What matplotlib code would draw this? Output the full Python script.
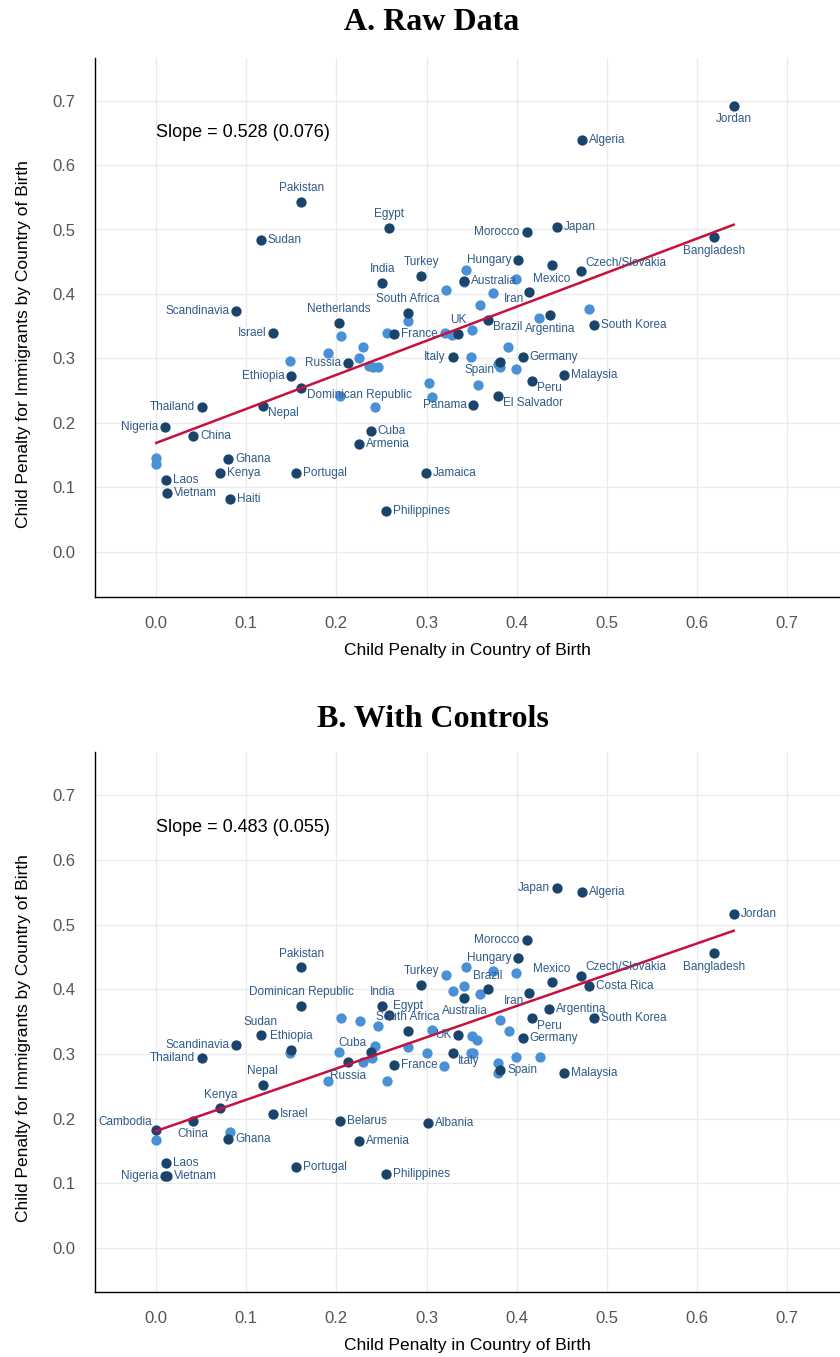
import matplotlib
matplotlib.use('Agg')
import matplotlib.pyplot as plt

plt.rcParams['font.family'] = ['Liberation Sans', 'DejaVu Sans']

# ---- Panel A: raw data ----
a_names = ['Jordan', 'Algeria', 'Pakistan', 'Egypt', 'Sudan', 'Morocco', 'Japan',
           'Bangladesh', 'Hungary', 'Mexico', 'Czech/Slovakia', 'India', 'Turkey',
           'Australia', 'Iran', 'Scandinavia', 'Netherlands', 'South Africa', 'Israel',
           'France', 'UK', 'Brazil', 'Argentina', 'South Korea', 'Russia', 'Italy',
           'Germany', 'Spain', 'Malaysia', 'Peru', 'Ethiopia', 'Dominican Republic',
           'Thailand', 'Nepal', 'Panama', 'El Salvador', 'Nigeria', 'China', 'Cuba',
           'Armenia', 'Ghana', 'Kenya', 'Portugal', 'Jamaica', 'Laos', 'Vietnam',
           'Haiti', 'Philippines']
a_x = [0.641, 0.473, 0.161, 0.258, 0.116, 0.411, 0.445, 0.619, 0.402, 0.439, 0.472,
       0.251, 0.294, 0.342, 0.414, 0.089, 0.203, 0.279, 0.130, 0.264, 0.335, 0.368,
       0.437, 0.486, 0.213, 0.329, 0.407, 0.382, 0.453, 0.417, 0.150, 0.161, 0.051,
       0.118, 0.352, 0.379, 0.010, 0.041, 0.238, 0.225, 0.080, 0.071, 0.155, 0.299,
       0.011, 0.012, 0.082, 0.255]
a_y = [0.692, 0.639, 0.543, 0.503, 0.483, 0.496, 0.504, 0.488, 0.453, 0.445, 0.435,
       0.417, 0.428, 0.420, 0.403, 0.374, 0.355, 0.371, 0.339, 0.338, 0.338, 0.360,
       0.367, 0.352, 0.293, 0.302, 0.302, 0.294, 0.275, 0.265, 0.272, 0.254, 0.224,
       0.227, 0.228, 0.242, 0.193, 0.179, 0.188, 0.168, 0.144, 0.123, 0.123, 0.123,
       0.111, 0.091, 0.082, 0.063]
a_pos = ['b', 'r', 't', 't', 'r', 'l', 'r', 'b', 'l', 'b', 'tr', 't', 't',
         'r', 'bl', 'l', 't', 't', 'l', 'r', 't', 'br', 'b', 'r', 'l', 'l',
         'r', 'bl', 'r', 'br', 'l', 'br', 'l', 'br', 'l', 'br', 'l', 'r', 'r',
         'r', 'r', 'r', 'r', 'r', 'r', 'r', 'r', 'r']
a_other_x = [0.205, 0.279, 0.256, 0.322, 0.320, 0.328, 0.344, 0.342, 0.399, 0.374,
             0.359, 0.480, 0.425, 0.351, 0.391, 0.229, 0.191, 0.225, 0.236, 0.241,
             0.246, 0.349, 0.379, 0.382, 0.399, 0.303, 0.357, 0.306, 0.204, 0.243,
             0.149, 0.000, 0.000]
a_other_y = [0.335, 0.358, 0.340, 0.406, 0.339, 0.336, 0.437, 0.418, 0.423, 0.401,
             0.383, 0.376, 0.363, 0.344, 0.318, 0.318, 0.309, 0.301, 0.289, 0.287,
             0.287, 0.303, 0.291, 0.287, 0.283, 0.262, 0.259, 0.240, 0.242, 0.225,
             0.296, 0.146, 0.136]
a_slope, a_se, a_icpt = 0.528, 0.076, 0.169

# ---- Panel B: with controls ----
b_names = ['Pakistan', 'Dominican Republic', 'Turkey', 'India', 'Egypt', 'South Africa',
           'Sudan', 'Scandinavia', 'Thailand', 'Ethiopia', 'UK', 'Italy', 'Cuba',
           'Russia', 'France', 'Nepal', 'Kenya', 'Cambodia', 'China', 'Israel', 'Ghana',
           'Belarus', 'Albania', 'Armenia', 'Laos', 'Nigeria', 'Vietnam', 'Portugal',
           'Philippines', 'Morocco', 'Hungary', 'Mexico', 'Czech/Slovakia', 'Costa Rica',
           'Brazil', 'Australia', 'Iran', 'Argentina', 'South Korea', 'Peru', 'Germany',
           'Spain', 'Malaysia', 'Japan', 'Algeria', 'Jordan', 'Bangladesh']
b_x = [0.161, 0.161, 0.294, 0.251, 0.258, 0.279, 0.116, 0.089, 0.051, 0.150, 0.335,
       0.329, 0.238, 0.213, 0.264, 0.118, 0.071, 0.000, 0.041, 0.130, 0.080, 0.204,
       0.302, 0.225, 0.011, 0.010, 0.012, 0.155, 0.255, 0.411, 0.402, 0.439, 0.472,
       0.480, 0.368, 0.342, 0.414, 0.436, 0.486, 0.417, 0.407, 0.382, 0.453, 0.445,
       0.473, 0.641, 0.619]
b_y = [0.434, 0.375, 0.407, 0.375, 0.360, 0.336, 0.329, 0.314, 0.294, 0.306, 0.329,
       0.301, 0.303, 0.287, 0.283, 0.252, 0.216, 0.182, 0.197, 0.207, 0.169, 0.197,
       0.193, 0.165, 0.131, 0.112, 0.111, 0.125, 0.114, 0.476, 0.448, 0.411, 0.421,
       0.405, 0.400, 0.387, 0.394, 0.369, 0.355, 0.355, 0.324, 0.276, 0.270, 0.556,
       0.550, 0.517, 0.456]
b_pos = ['t', 't', 't', 't', 'tr', 't', 't', 'l', 'l', 't', 'l', 'br', 'tl',
         'b', 'r', 't', 't', 'tl', 'b', 'r', 'r', 'r', 'r', 'r', 'r', 'l', 'r', 'r',
         'r', 'l', 'l', 't', 'tr', 'r', 't', 'b', 'bl', 'r', 'r', 'br', 'r',
         'r', 'r', 'l', 'r', 'r', 'b']
b_other_x = [0.322, 0.205, 0.226, 0.246, 0.306, 0.149, 0.243, 0.203, 0.229, 0.240,
             0.280, 0.300, 0.319, 0.000, 0.082, 0.191, 0.256, 0.344, 0.374, 0.399,
             0.329, 0.342, 0.359, 0.382, 0.392, 0.351, 0.356, 0.349, 0.352, 0.379,
             0.379, 0.399, 0.426]
b_other_y = [0.422, 0.355, 0.351, 0.343, 0.337, 0.301, 0.312, 0.303, 0.287, 0.294,
             0.311, 0.302, 0.281, 0.167, 0.179, 0.259, 0.259, 0.434, 0.428, 0.426,
             0.397, 0.405, 0.393, 0.353, 0.335, 0.328, 0.321, 0.301, 0.301, 0.286,
             0.270, 0.296, 0.295]
b_slope, b_se, b_icpt = 0.483, 0.055, 0.181

dark = '#1b446c'
light = '#4a90d6'
label_col = '#2e5a88'
red = '#c8103e'

# label placement: ha, va, dx, dy (points)
place = {
    'r': ('left', 'center', 5, 0),
    'l': ('right', 'center', -5, 0),
    't': ('center', 'bottom', 0, 5.5),
    'b': ('center', 'top', 0, -5.5),
    'tr': ('left', 'bottom', 3, 2),
    'tl': ('right', 'bottom', -3, 2),
    'br': ('left', 'top', 4, -1),
    'bl': ('right', 'top', -4, -1),
}


def panel(ax, names, xs, ys, pos, ox, oy, slope, se, icpt):
    ax.scatter(ox, oy, s=55, color=light, zorder=2, linewidths=0)
    ax.scatter(xs, ys, s=55, color=dark, zorder=3, linewidths=0)
    x0 = min(min(xs), min(ox))
    x1 = max(max(xs), max(ox))
    ax.plot([x0, x1], [icpt + slope * x0, icpt + slope * x1], color=red, lw=1.8, zorder=4)
    for n, x, y, p in zip(names, xs, ys, pos):
        ha, va, dx, dy = place[p]
        ax.annotate(n, (x, y), xytext=(dx, dy), textcoords='offset points',
                    ha=ha, va=va, fontsize=8.5, color=label_col, zorder=5)
    ax.text(0.0, 0.65, 'Slope = %.3f (%.3f)' % (slope, se), fontsize=13,
            color='black', va='center', ha='left')
    ax.set_xlim(-0.068, 0.759)
    ax.set_xticks([0.0, 0.1, 0.2, 0.3, 0.4, 0.5, 0.6, 0.7])
    ax.set_yticks([0.0, 0.1, 0.2, 0.3, 0.4, 0.5, 0.6, 0.7])
    ax.set_xticklabels(['0.0', '0.1', '0.2', '0.3', '0.4', '0.5', '0.6', '0.7'])
    ax.set_yticklabels(['0.0', '0.1', '0.2', '0.3', '0.4', '0.5', '0.6', '0.7'])
    ax.grid(True, color='#ebebeb', lw=1)
    ax.set_axisbelow(True)
    ax.tick_params(length=0, labelsize=12, labelcolor='#555555', pad=14)
    for s in ['top', 'right']:
        ax.spines[s].set_visible(False)
    for s in ['left', 'bottom']:
        ax.spines[s].set_color('black')
        ax.spines[s].set_linewidth(1)
    ax.set_xlabel('Child Penalty in Country of Birth', fontsize=12.5, labelpad=8)
    ax.set_ylabel('Child Penalty for Immigrants by Country of Birth', fontsize=12.5)
    ax.yaxis.set_label_coords(-0.086, 0.47)


fig = plt.figure(figsize=(8.4, 13.57), dpi=100)
ax1 = fig.add_axes([95 / 840, 1 - 597 / 1357, 745 / 840, 539 / 1357])
ax2 = fig.add_axes([95 / 840, 1 - 1292 / 1357, 745 / 840, 540 / 1357])

panel(ax1, a_names, a_x, a_y, a_pos, a_other_x, a_other_y, a_slope, a_se, a_icpt)
ax1.set_ylim(-0.070, 0.766)
panel(ax2, b_names, b_x, b_y, b_pos, b_other_x, b_other_y, b_slope, b_se, b_icpt)
ax2.set_ylim(-0.068, 0.767)

fig.text(432 / 840, 1 - 23 / 1357, 'A. Raw Data', ha='center', va='center',
         fontsize=23, fontweight='bold', family='Liberation Serif')
fig.text(433 / 840, 1 - 719 / 1357, 'B. With Controls', ha='center', va='center',
         fontsize=23, fontweight='bold', family='Liberation Serif')

fig.savefig('out.png', dpi=100)
